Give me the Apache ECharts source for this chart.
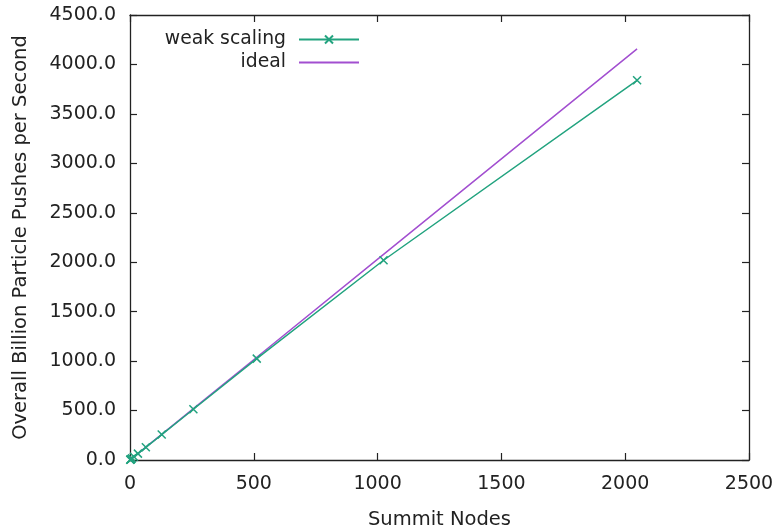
<!DOCTYPE html>
<html><head><meta charset="utf-8">
<script src="https://cdn.jsdelivr.net/npm/echarts@6/dist/echarts.min.js"></script>
<style>html,body{margin:0;padding:0;background:#fff}#c{width:777px;height:530px}</style>
</head><body><div id="c"></div>
<script>
const nodes = [1, 2, 4, 8, 16, 32, 64, 128, 256, 512, 1024, 2048];
const weakScaling = [2.03, 4.05, 8.1, 16.2, 32.3, 64.5, 128.5, 257, 513, 1025, 2020, 3840];
const ideal = [2.03, 4.06, 8.12, 16.24, 32.48, 64.96, 129.9, 259.8, 519.7, 1039.4, 2078.7, 4157.4];
const seriesNames = ['weak scaling', 'ideal'];
const xTitle = 'Summit Nodes';
const yTitle = 'Overall Billion Particle Pushes per Second';

const FONT = 'DejaVu Sans';
const TXT = '#222';
const GREEN = '#22a37f';
const PURPLE = '#a24fd0';
const xPath = 'path://M0,0L10,10M10,0L0,10';

const chart = echarts.init(document.getElementById('c'), null, {renderer: 'canvas'});
const axisLine = {show: true, onZero: false, lineStyle: {color: '#222', width: 1.3}};
const tick = {show: true, inside: true, length: 7, lineStyle: {color: '#222', width: 1.2}};
const legendText = {fontFamily: FONT, fontSize: 18.8, color: TXT, padding: [0, 8, 0, 0]};
chart.setOption({
  animation: false,
  backgroundColor: '#fff',
  textStyle: {fontFamily: FONT},
  grid: {left: 130, right: 28, top: 15, bottom: 70, containLabel: false, outerBoundsMode: 'none'},
  legend: [
    {data: [seriesNames[0]], orient: 'vertical', top: 25, right: 412, align: 'right',
     itemWidth: 60, itemHeight: 10, textStyle: legendText},
    {data: [{name: seriesNames[1], itemStyle: {opacity: 0}}], orient: 'vertical', top: 48, right: 412, align: 'right',
     itemWidth: 60, itemHeight: 10, textStyle: legendText}
  ],
  xAxis: [{
    type: 'value', min: 0, max: 2500, interval: 500,
    name: xTitle, nameLocation: 'middle', nameGap: 50,
    nameTextStyle: {fontFamily: FONT, fontSize: 19.5, color: TXT},
    axisLine: axisLine, axisTick: tick, splitLine: {show: false},
    axisLabel: {fontFamily: FONT, fontSize: 19, color: TXT, margin: 15, formatter: v => String(v)}
  }, {
    type: 'value', position: 'top', min: 0, max: 2500, interval: 500,
    axisLine: axisLine, axisTick: tick, splitLine: {show: false}, axisLabel: {show: false}
  }],
  yAxis: [{
    type: 'value', min: 0, max: 4500, interval: 500,
    name: yTitle, nameLocation: 'middle', nameGap: 99,
    nameTextStyle: {fontFamily: FONT, fontSize: 19.5, color: TXT},
    axisLine: axisLine, axisTick: tick, splitLine: {show: false},
    axisLabel: {fontFamily: FONT, fontSize: 19, color: TXT, margin: 14,
      formatter: v => v.toFixed(1)}
  }, {
    type: 'value', position: 'right', min: 0, max: 4500, interval: 500,
    axisLine: axisLine, axisTick: tick, splitLine: {show: false}, axisLabel: {show: false}
  }],
  series: [{
    name: seriesNames[0], type: 'line',
    data: nodes.map((n, i) => [n, weakScaling[i]]),
    symbol: xPath, symbolSize: 8, showAllSymbol: true,
    lineStyle: {color: GREEN, width: 1.5},
    itemStyle: {color: 'rgba(0,0,0,0)', borderColor: GREEN, borderWidth: 1.5},
    z: 3
  }, {
    name: seriesNames[1], type: 'line',
    data: nodes.map((n, i) => [n, ideal[i]]),
    symbol: 'none',
    lineStyle: {color: PURPLE, width: 1.5},
    itemStyle: {color: PURPLE},
    z: 2
  }]
});
</script></body></html>
